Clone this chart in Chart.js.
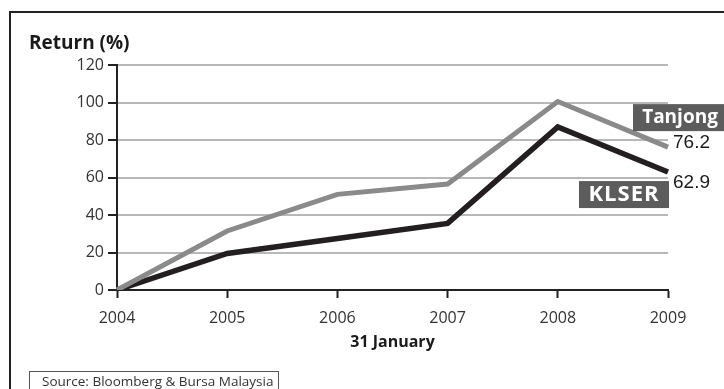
<!DOCTYPE html>
<html>
<head>
<meta charset="utf-8">
<script src="https://cdn.jsdelivr.net/npm/chart.js@4.4.1/dist/chart.umd.min.js"></script>
<style>
  html, body { margin: 0; padding: 0; background: #fff; }
  #wrap { width: 724px; height: 389px; position: relative; }
</style>
</head>
<body>
<div id="wrap"><canvas id="chart" width="724" height="389"></canvas></div>
<script>
const years = ["2004", "2005", "2006", "2007", "2008", "2009"];
const tanjong = [0, 31.5, 51, 56.5, 100.5, 76.2];
const klser = [0, 19.5, 27.5, 35.5, 87, 62.9];
const yTicks = [0, 20, 40, 60, 80, 100, 120];

const FONT = "'Open Sans', sans-serif";

// рамка, заголовок, подписи серий и источник
const decor = {
  id: "decor",
  afterDraw(chart) {
    const ctx = chart.ctx;
    const x = chart.scales.x;
    const y = chart.scales.y;
    ctx.save();

    ctx.strokeStyle = "#222";
    ctx.lineWidth = 2;
    ctx.beginPath();
    ctx.moveTo(10, 395);
    ctx.lineTo(10, 12);
    ctx.lineTo(730, 12);
    ctx.stroke();

    ctx.fillStyle = "#1a1a1a";
    ctx.font = "bold 19px " + FONT;
    ctx.textBaseline = "middle";
    ctx.fillText("Return (%)", 29, 44);

    const lastX = x.getPixelForValue(years.length - 1);
    const tY = y.getPixelForValue(tanjong[tanjong.length - 1]);
    const kY = y.getPixelForValue(klser[klser.length - 1]);

    // Tanjong
    ctx.fillStyle = "#5c5c5c";
    ctx.fillRect(lastX - 35, tY - 43, 92, 27);
    ctx.fillStyle = "#fff";
    ctx.font = "bold 19px " + FONT;
    ctx.textAlign = "center";
    ctx.fillText("Tanjong", lastX + 12, tY - 30);
    ctx.fillStyle = "#1a1a1a";
    ctx.font = "19px 'Liberation Sans', sans-serif";
    ctx.textAlign = "left";
    ctx.fillText(tanjong[tanjong.length - 1].toFixed(1), lastX + 5, tY - 4);

    // KLSER
    ctx.fillStyle = "#5c5c5c";
    ctx.fillRect(lastX - 89, kY + 9, 90, 27);
    ctx.fillStyle = "#fff";
    ctx.font = "bold 22px " + FONT;
    ctx.letterSpacing = "1px";
    ctx.textAlign = "center";
    ctx.fillText("KLSER", lastX - 44, kY + 23);
    ctx.letterSpacing = "0px";
    ctx.fillStyle = "#1a1a1a";
    ctx.font = "19px 'Liberation Sans', sans-serif";
    ctx.textAlign = "left";
    ctx.fillText(klser[klser.length - 1].toFixed(1), lastX + 5, kY + 11);

    // источник
    ctx.strokeStyle = "#555";
    ctx.lineWidth = 1;
    ctx.strokeRect(29.5, 371.5, 249, 30);
    ctx.fillStyle = "#333";
    ctx.font = "13.5px " + FONT;
    ctx.fillText("Source: Bloomberg & Bursa Malaysia", 42, 382);
    ctx.restore();
  },
};

new Chart(document.getElementById("chart"), {
  type: "line",
  data: {
    labels: years,
    datasets: [
      {
        label: "Tanjong",
        data: tanjong,
        borderColor: "#8a8a8a",
        borderWidth: 5,
        borderJoinStyle: "miter",
        pointRadius: 0,
        tension: 0,
      },
      {
        label: "KLSER",
        data: klser,
        borderColor: "#231f20",
        borderWidth: 5.5,
        borderJoinStyle: "miter",
        pointRadius: 0,
        tension: 0,
      },
    ],
  },
  options: {
    responsive: false,
    animation: false,
    layout: { padding: { left: 0, right: 56, top: 65, bottom: 33 } },
    plugins: { legend: { display: false }, tooltip: { enabled: false } },
    scales: {
      x: {
        offset: false,
        border: { color: "#222", width: 2 },
        grid: {
          drawOnChartArea: false,
          tickLength: 8,
          tickColor: "#222",
          tickWidth: 2,
        },
        ticks: { color: "#333", font: { family: FONT, size: 16 }, padding: 11, maxRotation: 0 },
        title: {
          display: true,
          text: "31 January",
          color: "#1a1a1a",
          font: { family: FONT, size: 16, weight: "bold" },
        },
        afterFit(scale) { scale.height = 66; },
      },
      y: {
        min: 0,
        max: 120,
        afterBuildTicks(scale) { scale.ticks = yTicks.map((v) => ({ value: v })); },
        border: { color: "#222", width: 2 },
        grid: {
          color: "#b8b8b8",
          lineWidth: 2,
          tickLength: 9,
          tickColor: "#222",
          tickWidth: 2,
        },
        ticks: { color: "#333", font: { family: FONT, size: 16 }, padding: 4 },
        afterFit(scale) { scale.width = 117; },
      },
    },
  },
  plugins: [decor],
});
</script>
</body>
</html>
